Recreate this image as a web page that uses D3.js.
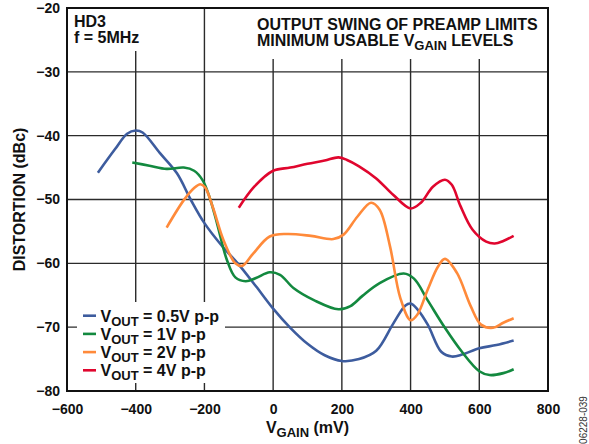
<!DOCTYPE html>
<html><head><meta charset="utf-8">
<script src="https://cdn.jsdelivr.net/npm/d3@7"></script>
<style>
html,body{margin:0;padding:0;background:#fff;}
svg text{font-family:"Liberation Sans",Arial,sans-serif;}
</style></head>
<body><svg id="c" width="589" height="444"></svg>
<script>
const xTicks = [-600,-400,-200,0,200,400,600,800];
const yTicks = [-80,-70,-60,-50,-40,-30,-20];
const seriesNames = ["0.5V p-p","1V p-p","2V p-p","4V p-p"];
const seriesColors = ["#3d5c9e","#13893f","#ff8a3a","#e0062e"];
const vout05 = [[-510,-45.8],[-460,-42.1],[-425,-39.7],[-400,-39.2],[-380,-39.5],[-330,-42.7],[-280,-45.9],[-240,-50],[-200,-53.7],[-150,-57.2],[-100,-60.2],[-50,-63.6],[0,-67.1],[50,-70.1],[100,-72.6],[150,-74.4],[200,-75.3],[250,-75.0],[300,-73.7],[350,-69.4],[385,-66.6],[400,-66.3],[420,-67.2],[450,-69.6],[490,-73.9],[520,-74.6],[550,-74.3],[600,-73.3],[650,-72.8],[700,-72.1]];
const vout1 = [[-410,-44.2],[-360,-44.7],[-310,-45.2],[-260,-45.0],[-230,-45.5],[-205,-47.0],[-183,-50],[-162,-54],[-135,-59.4],[-110,-62.2],[-80,-62.8],[-50,-62.3],[-10,-61.4],[20,-61.8],[60,-63.9],[120,-65.8],[190,-67.2],[225,-66.7],[260,-65.1],[310,-63.1],[380,-61.6],[410,-62.4],[450,-65.8],[500,-70.1],[550,-73.9],[600,-76.9],[630,-77.5],[670,-77.2],[700,-76.6]];
const vout2 = [[-310,-54.4],[-260,-50.1],[-230,-48.2],[-212,-47.6],[-198,-48.1],[-175,-51.3],[-145,-56.3],[-110,-60.0],[-90,-60.4],[-60,-58.6],[-10,-55.8],[40,-55.4],[110,-55.7],[175,-56.2],[205,-55.5],[245,-52.7],[285,-50.5],[310,-51.6],[340,-57.3],[370,-65.4],[400,-68.9],[420,-68.0],[450,-64.1],[480,-60.5],[500,-59.3],[535,-61.5],[575,-66.7],[605,-69.6],[640,-70.1],[670,-69.3],[700,-68.6]];
const vout4 = [[-100,-51.3],[-55,-48.0],[0,-45.5],[50,-45.0],[100,-44.4],[150,-43.9],[190,-43.4],[215,-43.8],[250,-44.8],[300,-46.7],[350,-49.3],[400,-51.4],[430,-50.5],[465,-48.0],[500,-46.9],[520,-47.7],[545,-51.0],[580,-54.7],[620,-56.6],[645,-56.9],[670,-56.5],[700,-55.7]];
const allSeries = [vout05, vout1, vout2, vout4];

const svg = d3.select("#c");
const L=67, R=548, T=8, B=391;
const x = d3.scaleLinear().domain([-600,800]).range([L,R]);
const y = d3.scaleLinear().domain([-80,-20]).range([B,T]);
const fmt = d => d < 0 ? "\u2212" + Math.abs(d) : String(d);

// grid
const grid = svg.append("g");
grid.selectAll("line.v").data(xTicks).join("line")
  .attr("x1",d=>x(d)).attr("x2",d=>x(d)).attr("y1",T).attr("y2",B)
  .attr("stroke","#2b2b2b").attr("stroke-width",1.4);
grid.selectAll("line.h").data(yTicks).join("line")
  .attr("y1",d=>y(d)).attr("y2",d=>y(d)).attr("x1",L).attr("x2",R)
  .attr("stroke","#2b2b2b").attr("stroke-width",1.4);

// white boxes behind annotations
svg.append("rect").attr("x",70).attr("y",T+1).attr("width",73).attr("height",42).attr("fill","#fff");
svg.append("rect").attr("x",252).attr("y",T+1).attr("width",R-253).attr("height",50).attr("fill","#fff");
svg.append("rect").attr("x",77).attr("y",302).attr("width",148).attr("height",81).attr("fill","#fff");

// frame
svg.append("rect").attr("x",L).attr("y",T).attr("width",R-L).attr("height",B-T)
  .attr("fill","none").attr("stroke","#111").attr("stroke-width",2);

// axes labels via d3 axes
const xAxis = svg.append("g").attr("transform",`translate(0,${B})`)
  .call(d3.axisBottom(x).tickValues(xTicks).tickFormat(fmt).tickSize(0).tickPadding(13));
const yAxis = svg.append("g").attr("transform",`translate(${L},0)`)
  .call(d3.axisLeft(y).tickValues(yTicks).tickFormat(fmt).tickSize(0).tickPadding(7));
[xAxis,yAxis].forEach(a=>{
  a.select(".domain").remove();
  a.selectAll("text").attr("font-size",14).attr("font-weight","bold").attr("fill","#111")
   .style("font-family","'Liberation Sans',Arial,sans-serif");
});

// curves
const line = d3.line().x(d=>x(d[0])).y(d=>y(d[1])).curve(d3.curveCatmullRom.alpha(0.5));
allSeries.forEach((s,i)=>{
  svg.append("path").datum(s).attr("d",line).attr("fill","none")
    .attr("stroke",seriesColors[i]).attr("stroke-width",2.6)
    .attr("stroke-linejoin","round").attr("stroke-linecap","butt");
});

// annotations
const bold = sel => sel.attr("font-weight","bold").attr("fill","#111");
bold(svg.append("text").attr("x",74).attr("y",27).attr("font-size",16).text("HD3"));
bold(svg.append("text").attr("x",74).attr("y",43).attr("font-size",16).text("f = 5MHz"));
bold(svg.append("text").attr("x",257).attr("y",30).attr("font-size",16).text("OUTPUT SWING OF PREAMP LIMITS"));
const t2 = bold(svg.append("text").attr("x",257).attr("y",46).attr("font-size",16));
t2.append("tspan").text("MINIMUM USABLE V");
t2.append("tspan").attr("font-size",13).attr("dy",4).text("GAIN");
t2.append("tspan").attr("dy",-4).text(" LEVELS");

// legend
const lg = svg.append("g");
seriesNames.forEach((n,i)=>{
  const yy = 315.7 + i*18.2;
  lg.append("line").attr("x1",83).attr("x2",96).attr("y1",yy).attr("y2",yy)
    .attr("stroke",seriesColors[i]).attr("stroke-width",2.6);
  const t = bold(lg.append("text").attr("x",100.5).attr("y",yy+6).attr("font-size",16));
  t.append("tspan").text("V");
  t.append("tspan").attr("font-size",13).attr("dy",4).text("OUT");
  t.append("tspan").attr("dy",-4).text(" = " + n);
});

// axis titles
const xt = bold(svg.append("text").attr("x",(L+R)/2).attr("y",433).attr("font-size",16).attr("text-anchor","middle"));
xt.append("tspan").text("V");
xt.append("tspan").attr("font-size",13).attr("dy",4).text("GAIN");
xt.append("tspan").attr("dy",-4).text(" (mV)");
bold(svg.append("text").attr("transform",`translate(25,${(T+B)/2}) rotate(-90)`)
  .attr("text-anchor","middle").attr("font-size",16).text("DISTORTION (dBc)"));
svg.append("text").attr("transform","translate(587,420) rotate(-90)")
  .attr("text-anchor","middle").attr("font-size",10).attr("fill","#333").text("06228-039");
</script></body></html>
